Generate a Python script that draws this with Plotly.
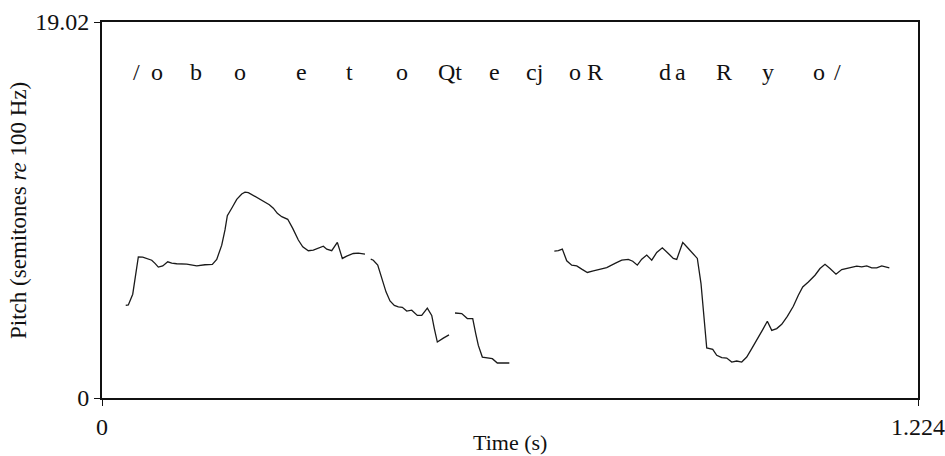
import plotly.graph_objects as go

# ---- data (time in s, pitch in semitones re 100 Hz) ----
seg1_t = [0.0356, 0.0395, 0.0461, 0.0495, 0.0545, 0.0611, 0.0671, 0.0746, 0.0795, 0.0845,
          0.0911, 0.0986, 0.1046, 0.1121, 0.1271, 0.1421, 0.1545, 0.1655, 0.1721, 0.1796,
          0.1845, 0.1880, 0.1946, 0.2021, 0.2096, 0.2145, 0.2195, 0.2270, 0.2345, 0.2420,
          0.2510, 0.2570, 0.2630, 0.2696, 0.2786, 0.2861, 0.2945, 0.3011, 0.3095, 0.3170,
          0.3245, 0.3320, 0.3371, 0.3446, 0.3530, 0.3605, 0.3671, 0.3720, 0.3770, 0.3845,
          0.3945]
seg1_f = [4.69, 4.71, 5.25, 6.13, 7.14, 7.13, 7.06, 6.97, 6.81, 6.62,
          6.68, 6.89, 6.82, 6.79, 6.77, 6.68, 6.74, 6.76, 7.01, 7.73,
          8.50, 9.22, 9.60, 10.05, 10.32, 10.41, 10.39, 10.24, 10.07, 9.93,
          9.78, 9.60, 9.34, 9.17, 9.04, 8.58, 7.99, 7.65, 7.45, 7.48,
          7.57, 7.68, 7.53, 7.45, 7.87, 7.06, 7.18, 7.23, 7.31, 7.33,
          7.28]

seg2_t = [0.4031, 0.4070, 0.4136, 0.4196, 0.4260, 0.4320, 0.4385, 0.4445, 0.4505, 0.4571,
          0.4646, 0.4730, 0.4796, 0.4880, 0.4946, 0.4985, 0.5030, 0.5120, 0.5205]
seg2_f = [7.02, 6.97, 6.72, 6.05, 5.37, 4.91, 4.68, 4.61, 4.59, 4.40,
          4.44, 4.18, 4.18, 4.55, 4.18, 3.51, 2.83, 3.03, 3.19]

seg3_t = [0.5295, 0.5396, 0.5480, 0.5561, 0.5606, 0.5645, 0.5705, 0.5771, 0.5855, 0.5930,
          0.6020, 0.6110]
seg3_f = [4.30, 4.27, 4.02, 4.02, 3.26, 2.66, 2.07, 2.02, 1.99, 1.77,
          1.77, 1.77]

seg4_t = [0.6785, 0.6845, 0.6905, 0.6971, 0.7046, 0.7121, 0.7196, 0.7280, 0.7370, 0.7470,
          0.7571, 0.7695, 0.7796, 0.7895, 0.7961, 0.8030, 0.8096, 0.8171, 0.8246, 0.8321,
          0.8405, 0.8495, 0.8570, 0.8621, 0.8711, 0.8771, 0.8846, 0.8930, 0.8985, 0.9020,
          0.9071, 0.9161, 0.9221, 0.9296, 0.9371, 0.9446, 0.9521, 0.9596, 0.9671, 0.9746,
          0.9821, 0.9911, 0.9980, 1.0046, 1.0121, 1.0196, 1.0280, 1.0370, 1.0445, 1.0511,
          1.0595, 1.0695, 1.0770, 1.0845, 1.0920, 1.1010, 1.1096, 1.1171, 1.1246, 1.1321,
          1.1396, 1.1471, 1.1546, 1.1621, 1.1696, 1.1810]
seg4_f = [7.43, 7.45, 7.53, 6.94, 6.72, 6.68, 6.52, 6.35, 6.43, 6.50,
          6.60, 6.81, 6.97, 7.01, 6.92, 6.72, 7.02, 7.23, 6.97, 7.36,
          7.60, 7.31, 7.06, 7.01, 7.87, 7.65, 7.39, 7.06, 5.79, 4.44,
          2.53, 2.46, 2.16, 2.04, 2.02, 1.82, 1.87, 1.82, 2.07, 2.50,
          2.97, 3.46, 3.88, 3.42, 3.51, 3.73, 4.13, 4.64, 5.20, 5.62,
          5.87, 6.21, 6.55, 6.76, 6.55, 6.26, 6.50, 6.55, 6.63, 6.67,
          6.63, 6.68, 6.58, 6.58, 6.68, 6.58]

segments = [(seg1_t, seg1_f), (seg2_t, seg2_f), (seg3_t, seg3_f), (seg4_t, seg4_f)]

phone_labels = ["/", "o", "b", "o", "e", "t", "o", "Qt", "e", "cj", "o", "R",
                "d", "a", "R", "y", "o", "/"]
phone_times = [0.0518, 0.0818, 0.1410, 0.2066, 0.2990, 0.3716, 0.4505, 0.5220,
               0.5889, 0.6488, 0.7092, 0.7400, 0.8445, 0.8679, 0.9330, 0.9990,
               1.0755, 1.1025]

x_range = [0, 1.224]
y_range = [0, 19.02]
x_ticklabels = ["0", "1.224"]
y_ticklabels = ["0", "19.02"]

FONT = "Liberation Serif, Times New Roman, serif"

fig = go.Figure()
for t, f in segments:
    fig.add_trace(go.Scatter(x=t, y=f, mode="lines",
                             line=dict(color="#1a1a1a", width=1.3),
                             showlegend=False, hoverinfo="skip"))

for lab, tm in zip(phone_labels, phone_times):
    fig.add_annotation(x=tm, y=0.868, xref="x", yref="paper", text=lab,
                       showarrow=False, xanchor="center", yanchor="middle",
                       font=dict(family=FONT, size=24, color="#111"))

fig.add_annotation(x=0.5, y=-0.118, xref="paper", yref="paper", text="Time (s)",
                   showarrow=False, xanchor="center", yanchor="middle",
                   font=dict(family=FONT, size=22, color="#111"))
fig.add_annotation(x=-0.103, y=0.5, xref="paper", yref="paper",
                   text="Pitch (semitones <i>re</i> 100 Hz)", textangle=-90,
                   showarrow=False, xanchor="center", yanchor="middle",
                   font=dict(family=FONT, size=23, color="#111"))

axis_common = dict(showgrid=False, zeroline=False, showline=True, linecolor="#111",
                   linewidth=2, mirror=True, ticks="outside", ticklen=6,
                   tickwidth=1.3, tickcolor="#111", automargin=False,
                   tickfont=dict(family=FONT, size=24, color="#111"))

fig.update_xaxes(range=x_range, tickvals=x_range, ticktext=x_ticklabels, **axis_common)
fig.update_yaxes(range=y_range, tickvals=y_range, ticktext=y_ticklabels, **axis_common)

fig.update_layout(width=945, height=456, plot_bgcolor="white", paper_bgcolor="white",
                  margin=dict(l=102, r=27, t=22, b=58), showlegend=False)

# remove the browser's default 8px body margin so the figure fills the window exactly
fig.write_html("out.html",
               config={"displayModeBar": False},
               post_script="document.body.style.margin='0';document.body.style.overflow='hidden';")
